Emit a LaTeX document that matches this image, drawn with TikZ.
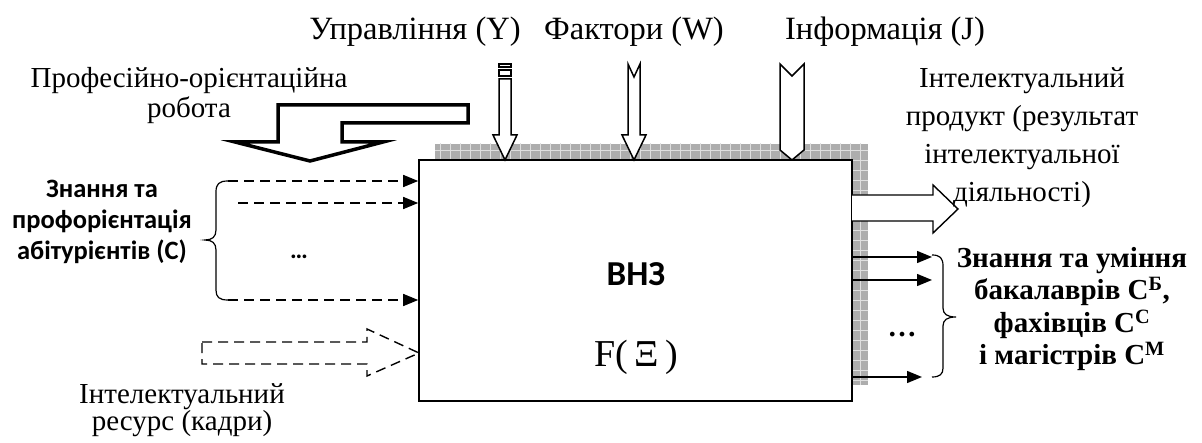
\documentclass[tikz,border=0pt]{standalone}
\usepackage{fontspec}
\setmainfont{Liberation Serif}
\newfontfamily\calfont{Carlito}
\usetikzlibrary{arrows.meta,positioning}

\begin{document}
\begin{tikzpicture}[x=1pt, y=-1pt,
    lbl/.style={font=\fontsize{29}{38}\selectfont, align=center, inner sep=0pt, anchor=base},
    blbl/.style={font=\calfont\bfseries\fontsize{26.5}{31}\selectfont, align=center, inner sep=0pt, anchor=base},
    slbl/.style={font=\bfseries\fontsize{29}{32.5}\selectfont, align=center, inner sep=0pt, anchor=base},
    block/.style={draw, line width=1.6pt, fill=white, inner sep=0pt},
    hollow/.style={draw, line width=1.5pt, fill=white, line join=miter},
    dasharr/.style={-{Triangle[length=15pt,width=12pt]}, dash pattern=on 10pt off 6pt, line width=1.4pt},
    solarr/.style={-{Triangle[length=15pt,width=12pt]}, line width=1.4pt},
    brace/.style={line width=1.2pt}
]
\useasboundingbox (0,0) rectangle (1202,443);

% shadow of the block
\fill[black!32] (435,144) rectangle (868,385);
\begin{scope}
  \clip (435,144) rectangle (868,385);
  \draw[white!75!gray, line width=0.5pt, step=10pt] (430,140) grid (870,390);
\end{scope}

\node[block, minimum width=433pt, minimum height=241pt] (box) at (635.5,280.5) {};
\node[font=\calfont\bfseries\fontsize{35}{35}\selectfont, inner sep=0pt, anchor=base] (vnz) at (636,286) {ВНЗ};
\node[font=\fontsize{38}{38}\selectfont, inner sep=0pt, anchor=base] (func) at (636,367) {F(\,Ξ\,)};

% top inputs
\node[lbl, font=\fontsize{32.5}{32}\selectfont] (ctrl) at (415,40) {Управління (Y)};
\node[lbl, font=\fontsize{32.5}{32}\selectfont] (fact) at (634,40) {Фактори (W)};
\node[lbl, font=\fontsize{32.5}{32}\selectfont] (info) at (885,40) {Інформація (J)};

\draw[hollow] (499,64) rectangle (511,67);
\draw[hollow] (499,70) rectangle (511,76);
\draw[hollow] (499,79) -- (511,79) -- (511,135) -- (517,135) -- (505,160)
  -- (493,135) -- (499,135) -- cycle;
\draw[hollow] (628,64) -- (634,77) -- (640,64) -- (640,135) -- (646,135)
  -- (634,160) -- (622,135) -- (628,135) -- cycle;
\draw[hollow] (780,64) -- (792,76) -- (804,64) -- (804,150) -- (792,160)
  -- (780,150) -- cycle;

% professional orientation
\node[lbl, font=\fontsize{29}{30}\selectfont] (prof) at (189,118) {Професійно-орієнтаційна\\робота};
\draw[draw, line width=3.5pt, fill=white, line join=miter] (278,105) -- (468,105) -- (468,123)
  -- (342,123) -- (342,142) -- (383,142) -- (310,161) -- (235,142) -- (278,142) -- cycle;

% applicants
\node[blbl] (appl) at (102,260) {Знання та\\профорієнтація\\абітурієнтів (С)};
\draw[brace] (228,181) .. controls (219,181) and (216,184) .. (216,192) -- (216,230)
  .. controls (216,237) and (212,240) .. (205,240) .. controls (212,240) and (216,243) .. (216,250)
  -- (216,290) .. controls (216,297) and (219,300) .. (228,300);
\coordinate (in1) at (228,181);
\coordinate (in2) at (238,203);
\coordinate (in3) at (228,300);
\draw[dasharr] (in1) -- (in1 -| box.west);
\draw[dasharr] (in2) -- (in2 -| box.west);
\draw[dasharr] (in3) -- (in3 -| box.west);
\node[font=\calfont\bfseries\fontsize{25}{25}\selectfont, inner sep=0pt, anchor=base] (dotsl) at (299,259) {…};

% intellectual resource
\draw[dash pattern=on 10pt off 6pt, line width=1.4pt] (202,342) -- (367,342) -- (367,329)
  -- (419,353) -- (367,376) -- (367,364) -- (202,364) -- cycle;
\node[lbl, font=\fontsize{29}{27}\selectfont] (res) at (182,430) {Інтелектуальний\\ресурс (кадри)};

% intellectual product
\draw[hollow, line width=1.4pt] (852,195) -- (933,195) -- (933,185) -- (958,209) -- (933,233)
  -- (933,221) -- (852,221);
\node[lbl] (prod) at (1022,202) {Інтелектуальний\\продукт (результат\\інтелектуальної\\діяльності)};

% graduates
\coordinate (out1) at (932,257);
\coordinate (out2) at (932,280);
\coordinate (out3) at (922,377);
\draw[solarr] (out1 -| box.east) -- (out1);
\draw[solarr] (out2 -| box.east) -- (out2);
\draw[solarr] (out3 -| box.east) -- (out3);
\node[font=\bfseries\fontsize{29}{29}\selectfont, inner sep=0pt, anchor=base] (dotsr) at (902,337) {…};
\draw[brace] (932,255) .. controls (940,255) and (943,258) .. (943,266) -- (943,308)
  .. controls (943,314) and (947,317) .. (956,317) .. controls (947,317) and (943,320) .. (943,326)
  -- (943,368) .. controls (943,374) and (940,377) .. (932,377);
\node[slbl] (grad) at (1072,365) {Знання та уміння\\бакалаврів С\textsuperscript{Б},\\фахівців С\textsuperscript{С}\\і магістрів С\textsuperscript{М}};
\end{tikzpicture}
\end{document}
